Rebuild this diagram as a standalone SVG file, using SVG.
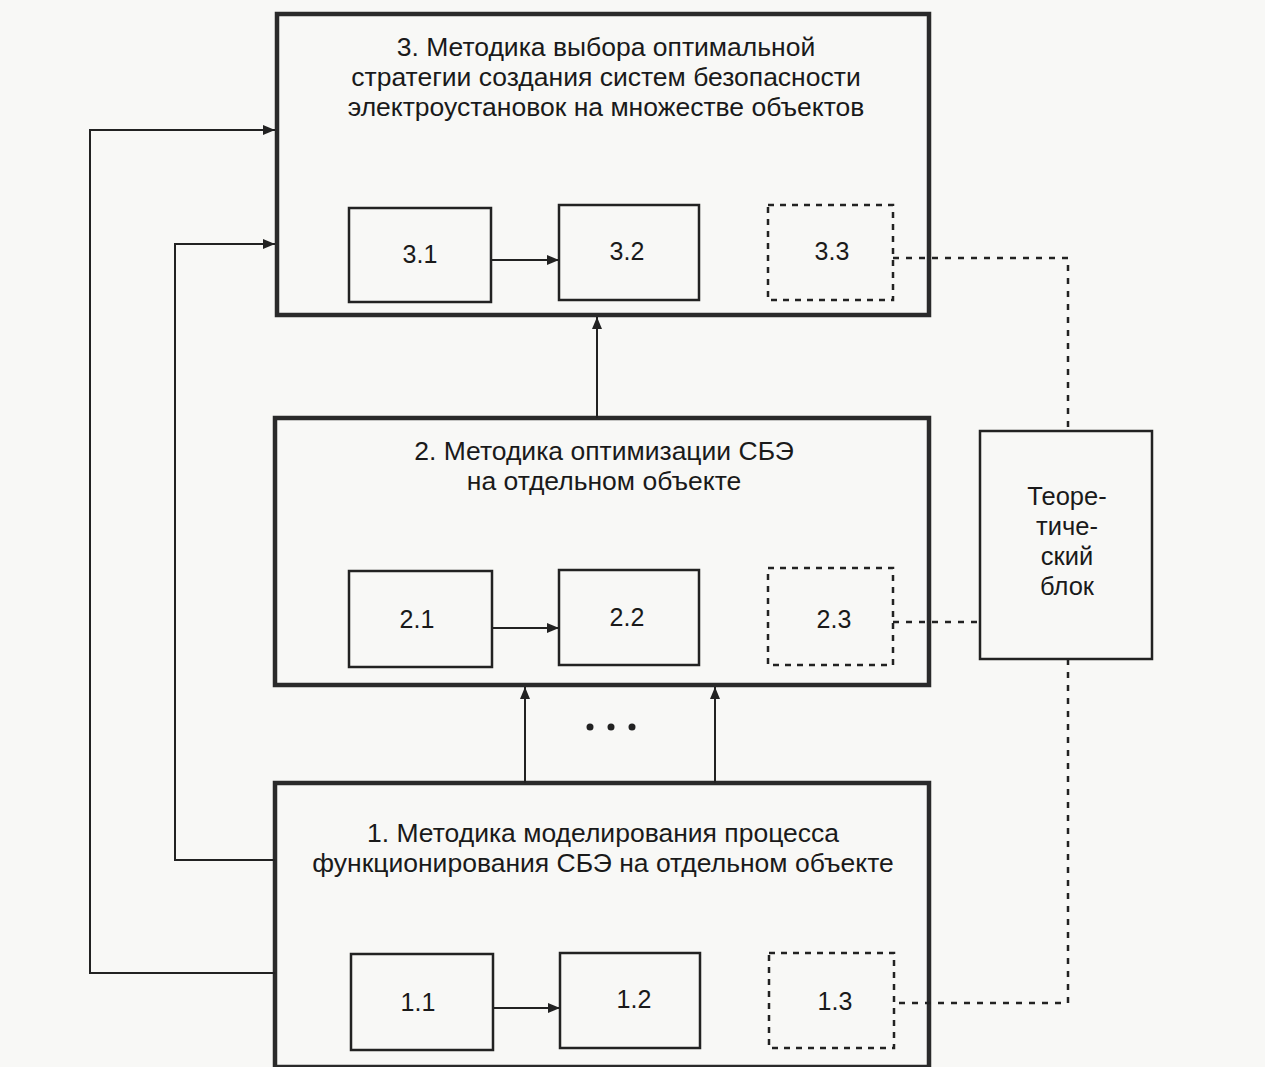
<svg xmlns="http://www.w3.org/2000/svg" width="1265" height="1067" viewBox="0 0 1265 1067">
<style>
.big{fill:none;stroke:#2a2a2a;stroke-width:4.5}
.sm{fill:none;stroke:#222;stroke-width:2.5}
.dsh{fill:none;stroke:#222;stroke-width:2.5;stroke-dasharray:6 6}
.ln{fill:none;stroke:#222;stroke-width:2}
.dl{fill:none;stroke:#222;stroke-width:2.5;stroke-dasharray:6 7}
text{font-family:"Liberation Sans",Arial,sans-serif;fill:#1a1a1a;text-anchor:middle}
.t{font-size:26.5px}
.n{font-size:25px}
.b{font-size:25.5px}
</style>
<defs>
<marker id="ah" viewBox="0 0 12 12" refX="12" refY="6" markerWidth="12" markerHeight="12" orient="auto" markerUnits="userSpaceOnUse">
<path d="M0,1 L12,6 L0,11 z" fill="#222"/>
</marker>
</defs>
<rect width="1265" height="1067" fill="#f8f8f6"/>

<g id="node3">
<rect class="big" x="277" y="14" width="652" height="301"/>
<text class="t" x="606" y="56">3. Методика выбора оптимальной</text>
<text class="t" x="606" y="86">стратегии создания систем безопасности</text>
<text class="t" x="606" y="116">электроустановок на множестве объектов</text>
</g>
<g id="node3-1"><rect class="sm" x="349" y="208" width="142" height="94"/><text class="n" x="420" y="263">3.1</text></g>
<g id="node3-2"><rect class="sm" x="559" y="205" width="140" height="95"/><text class="n" x="627" y="260">3.2</text></g>
<g id="node3-3"><rect class="dsh" x="768" y="205" width="125" height="95"/><text class="n" x="832" y="260">3.3</text></g>

<g id="node2">
<rect class="big" x="275" y="418" width="654" height="267"/>
<text class="t" x="604" y="460">2. Методика оптимизации СБЭ</text>
<text class="t" x="604" y="490">на отдельном объекте</text>
</g>
<g id="node2-1"><rect class="sm" x="349" y="571" width="143" height="96"/><text class="n" x="417" y="628">2.1</text></g>
<g id="node2-2"><rect class="sm" x="559" y="570" width="140" height="95"/><text class="n" x="627" y="626">2.2</text></g>
<g id="node2-3"><rect class="dsh" x="768" y="568" width="125" height="97"/><text class="n" x="834" y="628">2.3</text></g>

<g id="node-theory">
<rect class="sm" x="980" y="431" width="172" height="228"/>
<text class="b" x="1067" y="505">Теоре-</text>
<text class="b" x="1067" y="535">тиче-</text>
<text class="b" x="1067" y="565">ский</text>
<text class="b" x="1067" y="595">блок</text>
</g>

<g id="node1">
<rect class="big" x="275" y="783" width="654" height="284"/>
<text class="t" x="603" y="842">1. Методика моделирования процесса</text>
<text class="t" x="603" y="872">функционирования СБЭ на отдельном объекте</text>
</g>
<g id="node1-1"><rect class="sm" x="351" y="954" width="142" height="96"/><text class="n" x="418" y="1011">1.1</text></g>
<g id="node1-2"><rect class="sm" x="560" y="953" width="140" height="95"/><text class="n" x="634" y="1008">1.2</text></g>
<g id="node1-3"><rect class="dsh" x="769" y="953" width="125" height="95"/><text class="n" x="835" y="1010">1.3</text></g>

<g id="connectors">
<line class="ln" x1="491" y1="260" x2="559" y2="260" marker-end="url(#ah)"/>
<line class="ln" x1="492" y1="628" x2="559" y2="628" marker-end="url(#ah)"/>
<line class="ln" x1="493" y1="1008" x2="560" y2="1008" marker-end="url(#ah)"/>
<line class="ln" x1="597" y1="418" x2="597" y2="317" marker-end="url(#ah)"/>
<line class="ln" x1="525" y1="783" x2="525" y2="687" marker-end="url(#ah)"/>
<line class="ln" x1="715" y1="783" x2="715" y2="687" marker-end="url(#ah)"/>
<polyline class="ln" points="275,973 90,973 90,130 275,130" marker-end="url(#ah)"/>
<polyline class="ln" points="275,860 175,860 175,244 275,244" marker-end="url(#ah)"/>
<polyline class="dl" points="893,258 1068,258 1068,431"/>
<polyline class="dl" points="893,622 980,622"/>
<polyline class="dl" points="1068,659 1068,1003 894,1003"/>
<circle cx="590" cy="727" r="3.5" fill="#222"/>
<circle cx="611" cy="727" r="3.5" fill="#222"/>
<circle cx="632" cy="727" r="3.5" fill="#222"/>
</g>
</svg>
